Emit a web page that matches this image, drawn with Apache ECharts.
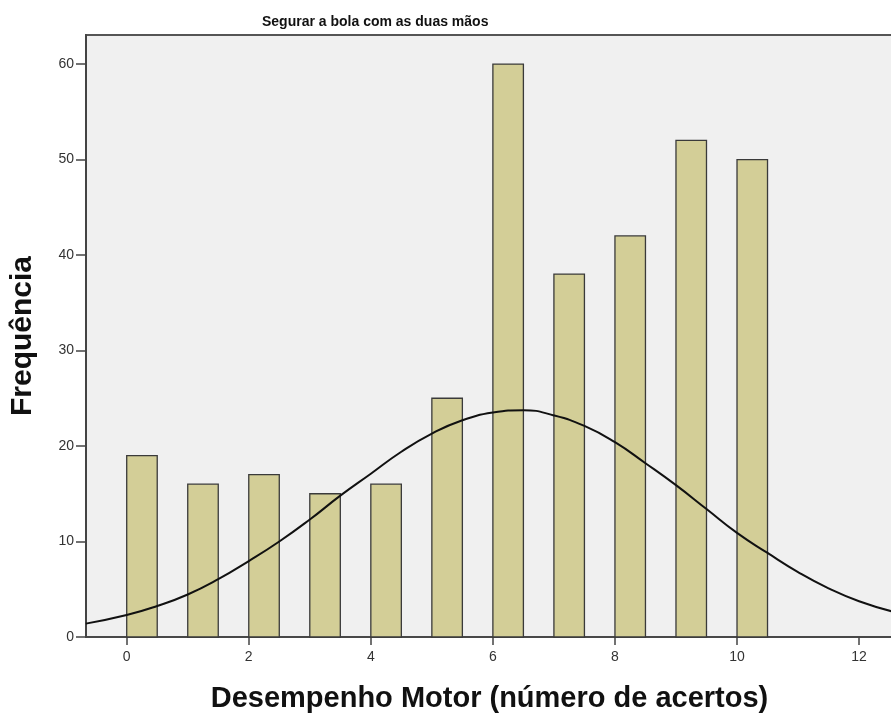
<!DOCTYPE html>
<html>
<head>
<meta charset="utf-8">
<script src="https://cdn.jsdelivr.net/npm/echarts@6/dist/echarts.min.js"></script>
<style>
  html, body { margin: 0; padding: 0; background: #fff; }
  #main { width: 891px; height: 715px; }
</style>
</head>
<body>
<div id="main"></div>
<script>
// histograma: cada barra começa no valor e tem largura 0.5
var scores = [0, 1, 2, 3, 4, 5, 6, 7, 8, 9, 10];
var counts = [19, 16, 17, 15, 16, 25, 60, 38, 42, 52, 50];
var binWidth = 0.5;

// curva normal
var curveX = [-0.67, 0, 0.5, 1, 1.5, 2, 2.5, 3, 3.5, 4, 4.5, 5, 5.5, 6, 6.5, 7, 7.5, 8, 8.5, 9, 9.5, 10, 10.5, 11, 11.5, 12, 12.56];
var curveY = [1.4, 2.3, 3.25, 4.45, 6.05, 7.95, 10.0, 12.3, 14.8, 17.1, 19.4, 21.3, 22.7, 23.5, 23.75, 23.2, 22.1, 20.4, 18.2, 15.9, 13.4, 10.9, 8.8, 6.8, 5.1, 3.75, 2.65];

var xTicks = [0, 2, 4, 6, 8, 10, 12];
var yTicks = [0, 10, 20, 30, 40, 50, 60];

var myChart = echarts.init(document.getElementById('main'));

var barData = [];
for (var i = 0; i < scores.length; i++) {
  barData.push([scores[i], counts[i]]);
}
var lineData = [];
for (var j = 0; j < curveX.length; j++) {
  lineData.push([curveX[j], curveY[j]]);
}

myChart.setOption({
  backgroundColor: '#ffffff',
  animation: false,
  title: {
    text: 'Segurar a bola com as duas mãos',
    left: 257,
    top: 10,
    textStyle: {
      fontFamily: 'Liberation Sans, Arial, sans-serif',
      fontSize: 14,
      fontWeight: 'bold',
      color: '#111'
    }
  },
  grid: {
    left: 86,
    top: 35,
    right: -2,
    bottom: 78,
    outerBoundsMode: 'none',
    containLabel: false,
    show: true,
    backgroundColor: '#F0F0F0',
    borderColor: '#555',
    borderWidth: 2
  },
  xAxis: {
    type: 'value',
    min: -0.667,
    max: 12.556,
    name: 'Desempenho Motor (número de acertos)',
    nameLocation: 'middle',
    nameGap: 47,
    nameTextStyle: {
      fontFamily: 'Liberation Sans',
      fontSize: 29,
      fontWeight: 'bold',
      color: '#111'
    },
    splitLine: { show: false },
    axisLine: { show: true, onZero: false, lineStyle: { color: '#444', width: 1.5 } },
    axisTick: { show: true, length: 8, customValues: xTicks, lineStyle: { color: '#444', width: 1.5 } },
    axisLabel: {
      customValues: xTicks,
      margin: 13,
      fontFamily: 'Liberation Sans',
      fontSize: 14,
      color: '#333'
    }
  },
  yAxis: {
    type: 'value',
    min: 0,
    max: 63.04,
    name: 'Frequência',
    nameLocation: 'middle',
    nameGap: 48,
    nameTextStyle: {
      fontFamily: 'Liberation Sans',
      fontSize: 30,
      fontWeight: 'bold',
      color: '#111'
    },
    splitLine: { show: false },
    axisLine: { show: true, onZero: false, lineStyle: { color: '#444', width: 2 } },
    axisTick: { show: true, length: 10, customValues: yTicks, lineStyle: { color: '#444', width: 1.5 } },
    axisLabel: {
      customValues: yTicks,
      margin: 12,
      fontFamily: 'Liberation Sans',
      fontSize: 14,
      color: '#333'
    }
  },
  series: [{
    name: 'Frequência',
    type: 'custom',
    data: barData,
    renderItem: function (params, api) {
      var x0 = api.value(0);
      var v = api.value(1);
      var p0 = api.coord([x0, v]);
      var p1 = api.coord([x0 + binWidth, 0]);
      return {
        type: 'rect',
        shape: { x: p0[0], y: p0[1], width: p1[0] - p0[0], height: p1[1] - p0[1] },
        style: { fill: '#D3CE97', stroke: '#3a3a3a', lineWidth: 1.3 }
      };
    },
    z: 2
  }, {
    name: 'Normal',
    type: 'line',
    data: lineData,
    smooth: true,
    showSymbol: false,
    symbol: 'none',
    lineStyle: { color: '#111', width: 2 },
    z: 3
  }]
});
</script>
</body>
</html>
